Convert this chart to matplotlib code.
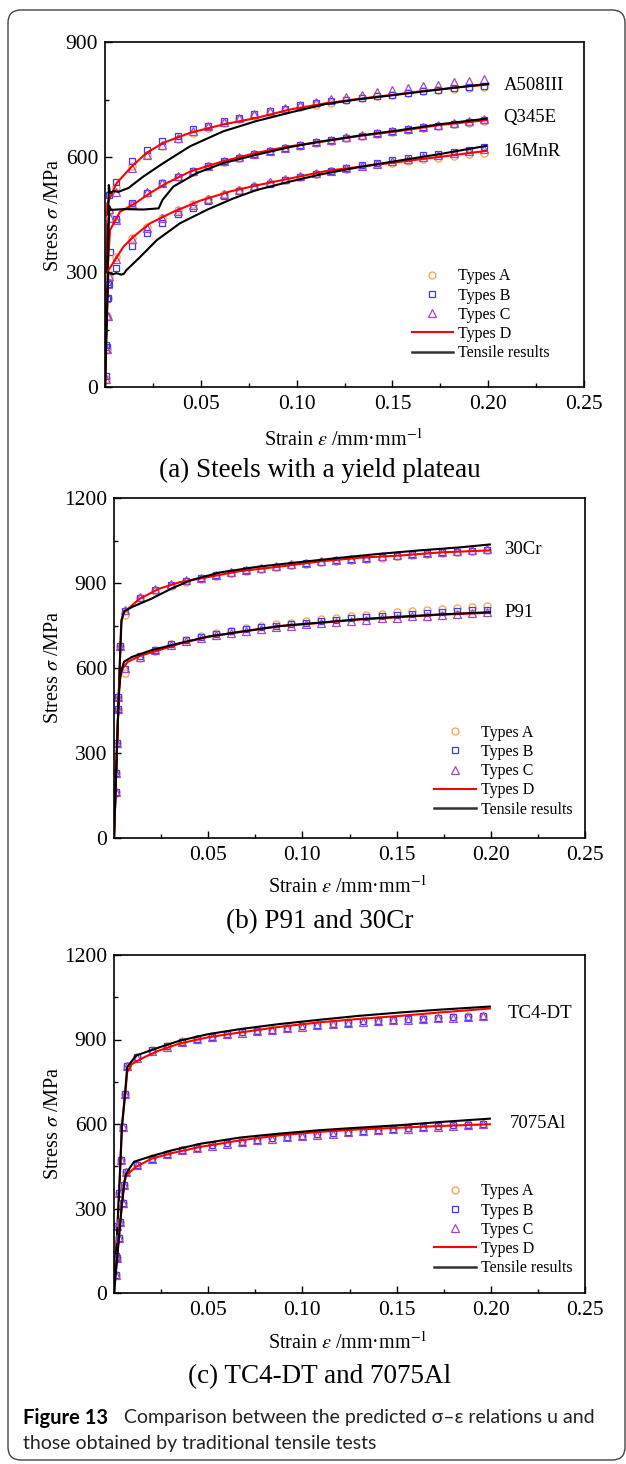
import matplotlib
matplotlib.use('Agg')
import matplotlib.pyplot as plt
from matplotlib.patches import FancyBboxPatch
from matplotlib.ticker import MultipleLocator
from matplotlib.lines import Line2D

plt.rcParams['font.family'] = ['Liberation Serif', 'DejaVu Serif']
plt.rcParams['mathtext.fontset'] = 'stix'

# общая сетка деформаций для маркеров (a) и (b)
grid_ab = [0.006, 0.014, 0.022, 0.030, 0.038, 0.046, 0.054, 0.062, 0.070, 0.078,
           0.086, 0.094, 0.102, 0.110, 0.118, 0.126, 0.134, 0.142, 0.150, 0.158,
           0.166, 0.174, 0.182, 0.190, 0.198]
grid_c = [0.012, 0.020, 0.028, 0.036, 0.044, 0.052, 0.060, 0.068, 0.076, 0.084,
          0.092, 0.100, 0.108, 0.116, 0.124, 0.132, 0.140, 0.148, 0.156, 0.164,
          0.172, 0.180, 0.188, 0.196]

# ---- (a) A508III
a508_mk_e = [0.0004, 0.0012, 0.0022] + grid_ab
a508_A = [20, 185, 460, 522, 576, 606, 630, 648, 663, 676, 688, 698, 707, 715, 723, 730,
          736, 742, 748, 753, 758, 763, 767, 771, 775, 778, 781, 783]
a508_B = [30, 230, 500, 536, 589, 618, 641, 654, 672, 682, 693, 703, 711, 720, 726, 735,
          742, 745, 750, 754, 758, 762, 766, 771, 775, 779, 782, 785]
a508_C = [20, 185, 465, 510, 571, 606, 632, 650, 667, 680, 692, 702, 711, 720, 728, 736,
          744, 751, 757, 763, 769, 775, 780, 785, 789, 795, 798, 803]
a508_red_e = [0, 0.0005, 0.0012, 0.0061, 0.0139, 0.0218, 0.0304, 0.0444, 0.0617, 0.0792,
              0.0966, 0.115, 0.133, 0.150, 0.166, 0.183, 0.200]
a508_red_s = [0, 250, 479, 532, 575, 611, 637, 663, 685, 702, 724, 740, 752, 762, 772, 781, 789]
a508_blk_e = [0, 0.0010, 0.0020, 0.0026, 0.0045, 0.0070, 0.0095, 0.0122, 0.0200, 0.0304,
              0.0444, 0.0617, 0.0792, 0.0966, 0.115, 0.133, 0.150, 0.166, 0.183, 0.200]
a508_blk_s = [0, 260, 527, 506, 511, 509, 514, 519, 549, 584, 628, 667, 694, 716, 738, 751,
              761, 771, 781, 791]

# ---- (a) Q345E
q345_mk_e = [0.0008, 0.0016, 0.0026] + grid_ab
q345_A = [100, 270, 440, 436, 478, 507, 531, 548, 562, 576, 588, 598, 607, 615, 623, 630,
          637, 643, 649, 655, 661, 666, 671, 676, 681, 685, 689, 693]
q345_B = [105, 275, 352, 438, 480, 507, 532, 549, 563, 576, 589, 598, 607, 616, 624, 631,
          638, 644, 650, 656, 662, 667, 672, 677, 682, 687, 692, 696]
q345_C = [100, 270, 440, 436, 478, 508, 533, 550, 563, 577, 590, 599, 608, 616, 624, 631,
          638, 645, 651, 657, 663, 668, 673, 678, 683, 688, 693, 698]
q345_red_e = [0, 0.0008, 0.0026, 0.0078, 0.0157, 0.0235, 0.0322, 0.0444, 0.0617, 0.0792,
              0.0966, 0.112, 0.133, 0.154, 0.174, 0.199]
q345_red_s = [0, 250, 409, 457, 479, 506, 532, 562, 589, 611, 628, 639, 655, 668, 683, 696]
q345_blk_e = [0, 0.0010, 0.0022, 0.0030, 0.0100, 0.0200, 0.0280, 0.0300, 0.0357, 0.0479,
              0.0617, 0.0792, 0.0966, 0.112, 0.133, 0.154, 0.174, 0.199]
q345_blk_s = [0, 230, 472, 462, 464, 463, 466, 488, 523, 558, 584, 606, 626, 640, 656, 670,
              685, 700]

# ---- (a) 16MnR
mnr_mk_e = [0.0006, 0.0014, 0.0022] + grid_ab
mnr_A = [100, 232, 290, 338, 388, 418, 442, 461, 477, 491, 503, 514, 524, 533, 541, 549,
         556, 563, 570, 576, 582, 585, 589, 594, 598, 603, 607, 611]
mnr_B = [110, 231, 270, 310, 369, 403, 429, 451, 468, 486, 499, 512, 522, 530, 540, 548,
         555, 563, 571, 578, 585, 592, 598, 604, 609, 614, 619, 626]
mnr_C = [100, 184, 290, 334, 385, 416, 440, 460, 476, 491, 503, 515, 525, 534, 542, 550,
         557, 564, 571, 577, 583, 589, 595, 600, 605, 610, 615, 620]
mnr_red_e = [0, 0.0008, 0.0017, 0.0052, 0.0096, 0.0148, 0.0235, 0.0357, 0.0496, 0.0652,
             0.0792, 0.0966, 0.116, 0.137, 0.158, 0.179, 0.199]
mnr_red_s = [0, 160, 304, 331, 366, 392, 427, 457, 486, 510, 526, 544, 564, 577, 590, 603, 616]
mnr_blk_e = [0, 0.0008, 0.0017, 0.0040, 0.0060, 0.0085, 0.0100, 0.0110, 0.0183, 0.0270,
             0.0391, 0.0531, 0.0670, 0.0792, 0.0966, 0.112, 0.133, 0.154, 0.174, 0.199]
mnr_blk_s = [0, 150, 299, 294, 297, 293, 296, 304, 339, 383, 427, 462, 492, 514, 536, 554,
             574, 591, 607, 629]

# ---- (b) 30Cr
cr_mk_e = [0.001, 0.002, 0.003] + grid_ab
cr_A = [229, 454, 677, 787, 846, 873, 891, 904, 915, 926, 935, 943, 949, 956, 962, 967,
        973, 978, 982, 986, 990, 994, 998, 1002, 1006, 1009, 1012, 1015]
cr_B = [229, 454, 677, 800, 848, 875, 893, 906, 917, 928, 937, 945, 951, 958, 964, 969,
        975, 980, 984, 988, 993, 997, 1001, 1005, 1008, 1011, 1014, 1017]
cr_C = [229, 454, 677, 805, 850, 879, 895, 909, 918, 929, 940, 947, 953, 960, 966, 971,
        977, 982, 986, 990, 994, 998, 1002, 1006, 1010, 1013, 1016, 1020]
cr_red_e = [0, 0.0015, 0.003, 0.0038, 0.005, 0.0074, 0.0138, 0.024, 0.035, 0.05, 0.067,
            0.088, 0.109, 0.13, 0.152, 0.173, 0.1995]
cr_red_s = [0, 300, 600, 760, 795, 809, 845, 880, 903, 921, 942, 958, 976, 989, 997, 1008, 1015]
cr_blk_e = [0, 0.0015, 0.003, 0.004, 0.0055, 0.0095, 0.02, 0.031, 0.041, 0.056, 0.077,
            0.099, 0.12, 0.141, 0.162, 0.184, 0.1995]
cr_blk_s = [0, 300, 600, 770, 800, 815, 845, 882, 910, 937, 958, 974, 989, 1003, 1015, 1026, 1036]

# ---- (b) P91
p91_mk_e = [0.0008, 0.0015, 0.0022] + grid_ab
p91_A = [164, 334, 498, 583, 635, 660, 683, 698, 712, 722, 732, 740, 747, 754, 760, 766,
         772, 777, 782, 787, 791, 796, 800, 805, 808, 811, 815, 819]
p91_B = [164, 334, 498, 598, 642, 664, 684, 698, 710, 720, 729, 736, 743, 749, 755, 760,
         766, 770, 775, 779, 783, 787, 791, 794, 797, 800, 803, 806]
p91_C = [164, 334, 498, 600, 640, 662, 682, 696, 707, 717, 725, 732, 738, 744, 749, 754,
         759, 763, 767, 771, 775, 778, 782, 785, 788, 791, 793, 796]
p91_red_e = [0, 0.0015, 0.0025, 0.003, 0.0045, 0.0074, 0.0138, 0.024, 0.035, 0.05, 0.067,
             0.088, 0.109, 0.13, 0.152, 0.173, 0.1995]
p91_red_s = [0, 300, 500, 560, 600, 622, 643, 663, 686, 710, 727, 748, 759, 771, 780, 788, 795]
p91_blk_e = [0, 0.0015, 0.0025, 0.0035, 0.0053, 0.0095, 0.02, 0.035, 0.05, 0.067, 0.088,
             0.109, 0.13, 0.152, 0.173, 0.1995]
p91_blk_s = [0, 300, 500, 580, 622, 639, 663, 688, 711, 728, 748, 760, 772, 781, 789, 797]

# ---- (c) TC4-DT
tc4_mk_e = [0.001, 0.0017, 0.0025, 0.0036, 0.0047, 0.006, 0.0068] + grid_c
tc4_A = [130, 238, 354, 472, 589, 707, 807, 838, 862, 877, 893, 903, 911, 920, 926, 932,
         935, 942, 948, 953, 957, 961, 965, 968, 970, 973, 975, 977, 980, 982, 985]
tc4_B = [130, 238, 354, 472, 589, 707, 807, 837, 861, 876, 892, 902, 910, 919, 925, 931,
         934, 941, 947, 952, 956, 960, 964, 967, 969, 972, 974, 976, 979, 981, 984]
tc4_C = [130, 238, 354, 472, 589, 707, 807, 836, 860, 875, 891, 901, 909, 918, 924, 930,
         933, 940, 946, 951, 955, 959, 963, 966, 968, 971, 973, 975, 978, 980, 983]
tc4_red_e = [0, 0.0015, 0.003, 0.0042, 0.006, 0.007, 0.0095, 0.016, 0.024, 0.035, 0.05,
             0.067, 0.088, 0.109, 0.13, 0.152, 0.173, 0.1995]
tc4_red_s = [0, 190, 400, 590, 707, 784, 813, 837, 861, 886, 908, 925, 945, 961, 973, 984, 996, 1010]
tc4_blk_e = [0, 0.0015, 0.003, 0.0042, 0.006, 0.007, 0.0117, 0.024, 0.035, 0.05, 0.067,
             0.088, 0.109, 0.13, 0.152, 0.173, 0.1995]
tc4_blk_s = [0, 190, 400, 590, 720, 802, 843, 872, 896, 919, 937, 955, 970, 984, 996, 1006, 1017]

# ---- (c) 7075Al
al_mk_e = [0.001, 0.0017, 0.0025, 0.0032, 0.0047, 0.0053, 0.0064] + grid_c
al_A = [65, 124, 195, 253, 318, 383, 430, 456, 478, 495, 508, 517, 525, 532, 538, 544,
        550, 555, 559, 564, 568, 572, 576, 579, 583, 586, 590, 593, 596, 599, 601]
al_B = [65, 124, 195, 253, 318, 383, 430, 455, 477, 494, 507, 516, 524, 531, 537, 543,
        549, 554, 558, 563, 567, 571, 575, 578, 582, 585, 589, 592, 595, 598, 600]
al_C = [65, 124, 195, 253, 318, 383, 430, 454, 476, 493, 506, 515, 523, 530, 536, 542,
        548, 553, 557, 562, 566, 570, 574, 577, 581, 584, 588, 591, 594, 597, 599]
al_red_e = [0, 0.002, 0.004, 0.0055, 0.0064, 0.0117, 0.02, 0.031, 0.046, 0.067, 0.088,
            0.109, 0.13, 0.152, 0.173, 0.1995]
al_red_s = [0, 150, 300, 390, 418, 448, 477, 497, 519, 542, 560, 572, 581, 587, 593, 599]
al_blk_e = [0, 0.002, 0.004, 0.0055, 0.0064, 0.0106, 0.02, 0.031, 0.046, 0.067, 0.088,
            0.109, 0.13, 0.152, 0.173, 0.1995]
al_blk_s = [0, 150, 300, 395, 424, 466, 486, 507, 530, 552, 566, 578, 587, 596, 607, 619]

xtick_vals = [0.05, 0.10, 0.15, 0.20, 0.25]
xtick_labels = ['0.05', '0.10', '0.15', '0.20', '0.25']

C_A = '#f7a24a'
C_B = '#3a3aff'
C_C = '#a547c2'

W, H = 626, 1464
fig = plt.figure(figsize=(W / 100, H / 100), dpi=100)

# рамка с закруглёнными углами
frame = FancyBboxPatch((0.08, 0.04), 6.17, 14.5, boxstyle='round,pad=0,rounding_size=0.13',
                       transform=fig.dpi_scale_trans, facecolor='none',
                       edgecolor='#444444', linewidth=1.0)
fig.add_artist(frame)


def make_axes(left, top, right, bottom):
    return fig.add_axes([left / W, 1 - bottom / H, (right - left) / W, (bottom - top) / H])


def draw_material(ax, mk_e, sa, sb, sc, red_e, red_s, blk_e, blk_s):
    ax.plot(mk_e, sa, 'o', ms=5.2, mfc='none', mec=C_A, mew=0.9)
    ax.plot(mk_e, sb, 's', ms=4.8, mfc='none', mec=C_B, mew=0.9)
    ax.plot(mk_e, sc, '^', ms=5.8, mfc='none', mec=C_C, mew=0.9)
    ax.plot(red_e, red_s, color='red', lw=1.5)
    ax.plot(blk_e, blk_s, color='black', lw=1.5)


def style(ax, ymax, leg_anchor):
    ax.set_xlim(0, 0.25)
    ax.set_ylim(0, ymax)
    ax.set_xticks(xtick_vals)
    ax.set_xticklabels(xtick_labels)
    ax.xaxis.set_minor_locator(MultipleLocator(0.025))
    ax.set_yticks(list(range(0, ymax + 1, 300)))
    ax.yaxis.set_minor_locator(MultipleLocator(150))
    ax.tick_params(which='both', direction='in', top=False, right=False, labelsize=15.5)
    ax.tick_params(which='major', length=5, width=1)
    ax.tick_params(which='minor', length=3, width=1)
    ax.tick_params(axis='x', pad=6)
    ax.tick_params(axis='y', pad=5)
    for s in ax.spines.values():
        s.set_linewidth(1.2)
    handles = [
        Line2D([], [], ls='none', marker='o', ms=5, mfc='none', mec=C_A, mew=0.9),
        Line2D([], [], ls='none', marker='s', ms=4.6, mfc='none', mec=C_B, mew=0.9),
        Line2D([], [], ls='none', marker='^', ms=5.5, mfc='none', mec=C_C, mew=0.9),
        Line2D([], [], color='red', lw=1.5),
        Line2D([], [], color='#333333', lw=1.8),
    ]
    names = ['Types A', 'Types B', 'Types C', 'Types D', 'Tensile results']
    ax.legend(handles, names, loc='lower left', bbox_to_anchor=leg_anchor, frameon=False,
              fontsize=11.5, handlelength=2.6, handletextpad=0.3, labelspacing=0.2,
              borderpad=0, borderaxespad=0)


def fig_text(x, y, s, **kw):
    fig.text(x / W, 1 - y / H, s, **kw)


xlab = 'Strain $\\varepsilon$ /mm·mm$^{-1}$'
ylab = 'Stress $\\sigma$ /MPa'

# (a)
ax1 = make_axes(105, 42, 584, 387)
draw_material(ax1, a508_mk_e, a508_A, a508_B, a508_C, a508_red_e, a508_red_s, a508_blk_e, a508_blk_s)
draw_material(ax1, q345_mk_e, q345_A, q345_B, q345_C, q345_red_e, q345_red_s, q345_blk_e, q345_blk_s)
draw_material(ax1, mnr_mk_e, mnr_A, mnr_B, mnr_C, mnr_red_e, mnr_red_s, mnr_blk_e, mnr_blk_s)
style(ax1, 900, (0.64, 0.075))
ax1.text(0.208, 787, 'A508III', fontsize=13.5, va='center')
ax1.text(0.208, 703, 'Q345E', fontsize=13.5, va='center')
ax1.text(0.208, 614, '16MnR', fontsize=13.5, va='center')
fig_text(344, 440, xlab, fontsize=14.5, ha='center', va='center')
fig_text(54, 215, ylab, fontsize=14.5, ha='center', va='center', rotation=90)
fig_text(320, 470, '(a) Steels with a yield plateau', fontsize=19.5, ha='center', va='center')

# (b)
ax2 = make_axes(114, 498, 585, 838)
draw_material(ax2, cr_mk_e, cr_A, cr_B, cr_C, cr_red_e, cr_red_s, cr_blk_e, cr_blk_s)
draw_material(ax2, p91_mk_e, p91_A, p91_B, p91_C, p91_red_e, p91_red_s, p91_blk_e, p91_blk_s)
style(ax2, 1200, (0.68, 0.06))
ax2.text(0.207, 1020, '30Cr', fontsize=13.5, va='center')
ax2.text(0.207, 795, 'P91', fontsize=13.5, va='center')
fig_text(348, 887, xlab, fontsize=14.5, ha='center', va='center')
fig_text(53, 667, ylab, fontsize=14.5, ha='center', va='center', rotation=90)
fig_text(320, 922, '(b) P91 and 30Cr', fontsize=19.5, ha='center', va='center')

# (c)
ax3 = make_axes(114, 955, 585, 1293)
draw_material(ax3, tc4_mk_e, tc4_A, tc4_B, tc4_C, tc4_red_e, tc4_red_s, tc4_blk_e, tc4_blk_s)
draw_material(ax3, al_mk_e, al_A, al_B, al_C, al_red_e, al_red_s, al_blk_e, al_blk_s)
style(ax3, 1200, (0.68, 0.05))
ax3.text(0.209, 993, 'TC4-DT', fontsize=13.5, va='center')
ax3.text(0.210, 601, '7075Al', fontsize=13.5, va='center')
fig_text(348, 1343, xlab, fontsize=14.5, ha='center', va='center')
fig_text(53, 1123, ylab, fontsize=14.5, ha='center', va='center', rotation=90)
fig_text(320, 1377, '(c) TC4-DT and 7075Al', fontsize=19.5, ha='center', va='center')

# подпись к рисунку
cap_font = ['Lato', 'DejaVu Sans']
fig_text(23, 1418, 'Figure 13', fontsize=14.5, fontweight='bold', family=cap_font, va='center')
fig_text(124, 1418, 'Comparison between the predicted σ–ε relations u and',
         fontsize=14, family=cap_font, va='center', color='#222222')
fig_text(23, 1443, 'those obtained by traditional tensile tests',
         fontsize=14, family=cap_font, va='center', color='#222222')

fig.savefig('out.png', dpi=100)
